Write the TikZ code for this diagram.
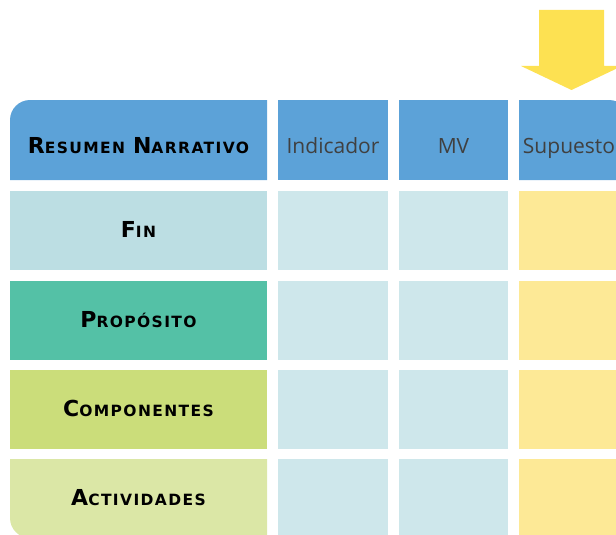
\documentclass[tikz,border=0pt]{standalone}
\usepackage{fontspec}
\setmainfont{Open Sans}
\newfontfamily\capsfont[LetterSpace=9]{DejaVu Sans}
\usetikzlibrary{positioning,backgrounds}

\definecolor{hdrblue}{RGB}{92,162,216}
\definecolor{finblue}{RGB}{188,222,227}
\definecolor{propgreen}{RGB}{84,193,166}
\definecolor{compgreen}{RGB}{203,221,122}
\definecolor{actgreen}{RGB}{219,231,166}
\definecolor{cellblue}{RGB}{206,231,235}
\definecolor{cellyellow}{RGB}{253,233,150}
\definecolor{arrowyellow}{RGB}{253,225,82}

% bold small capitals
\newcommand{\capsc}[2]{{\capsfont\bfseries\color{black}{\fontsize{22}{22}\selectfont #1}{\fontsize{15.5}{15.5}\selectfont #2}}}

\begin{document}
\begin{tikzpicture}[x=1pt, y=-1pt,
    cell/.style={rectangle, inner sep=0pt, outer sep=0pt, minimum height=79pt, text height=14pt, text depth=0pt},
    head/.style={cell, minimum height=80pt, text height=26pt, font=\fontsize{21}{21}\selectfont, text=black!75},
    namecol/.style={minimum width=257pt},
    midcol/.style={minimum width=110pt, fill=cellblue},
    supcol/.style={minimum width=110pt, fill=cellyellow},
    corner/.style={rounded corners=20pt}
]
\useasboundingbox (0,0) rectangle (616,535);
\clip (0,0) rectangle (616,535);

% Arrow
\fill[arrowyellow] (539,10) -- (604,10) -- (604,66) -- (622,66) -- (571.5,90) -- (521,66) -- (539,66) -- cycle;

% Header row
\node[head, namecol] (hdrnar) at (138.5,140) {\capsc{R}{ESUMEN}\hspace{8pt}\capsc{N}{ARRATIVO}};
\node[head, midcol, fill=hdrblue] (hdrind) at (333,140) {Indicador};
\node[head, midcol, fill=hdrblue, minimum width=109pt] (hdrmv) at (453.5,140) {MV};
\node[head, minimum width=110pt] (hdrsup) at (574,140) {Supuestos};

% Fin
\node[cell, namecol, fill=finblue] (fin) at (138.5,230.5) {\capsc{F}{IN}};
\node[cell, midcol] (finind) at (333,230.5) {};
\node[cell, midcol, minimum width=109pt] (finmv) at (453.5,230.5) {};
\node[cell, supcol] (finsup) at (574,230.5) {};

% Proposito
\node[cell, namecol, fill=propgreen] (prop) at (138.5,320) {\capsc{P}{ROPÓSITO}};
\node[cell, midcol] (propind) at (333,320) {};
\node[cell, midcol, minimum width=109pt] (propmv) at (453.5,320) {};
\node[cell, supcol] (propsup) at (574,320) {};

% Componentes
\node[cell, namecol, fill=compgreen] (comp) at (138.5,409) {\capsc{C}{OMPONENTES}};
\node[cell, midcol] (compind) at (333,409) {};
\node[cell, midcol, minimum width=109pt] (compmv) at (453.5,409) {};
\node[cell, supcol] (compsup) at (574,409) {};

% Actividades
\node[cell, namecol] (act) at (138.5,498.5) {\capsc{A}{CTIVIDADES}};
\node[cell, midcol] (actind) at (333,498.5) {};
\node[cell, midcol, minimum width=109pt] (actmv) at (453.5,498.5) {};
\node[cell, supcol] (actsup) at (574,498.5) {};

% Rounded outer corners
\begin{scope}[on background layer]
\fill[hdrblue] (hdrnar.south west) [corner] -- (hdrnar.north west) [sharp corners] -- (hdrnar.north east) -- (hdrnar.south east) -- cycle;
\fill[hdrblue] (hdrsup.south west) -- (hdrsup.north west) [corner] -- (hdrsup.north east) [sharp corners] -- (hdrsup.south east) -- cycle;
\fill[actgreen] (act.south east) [corner] -- (act.south west) [sharp corners] -- (act.north west) -- (act.north east) -- cycle;
\end{scope}
\end{tikzpicture}
\end{document}
